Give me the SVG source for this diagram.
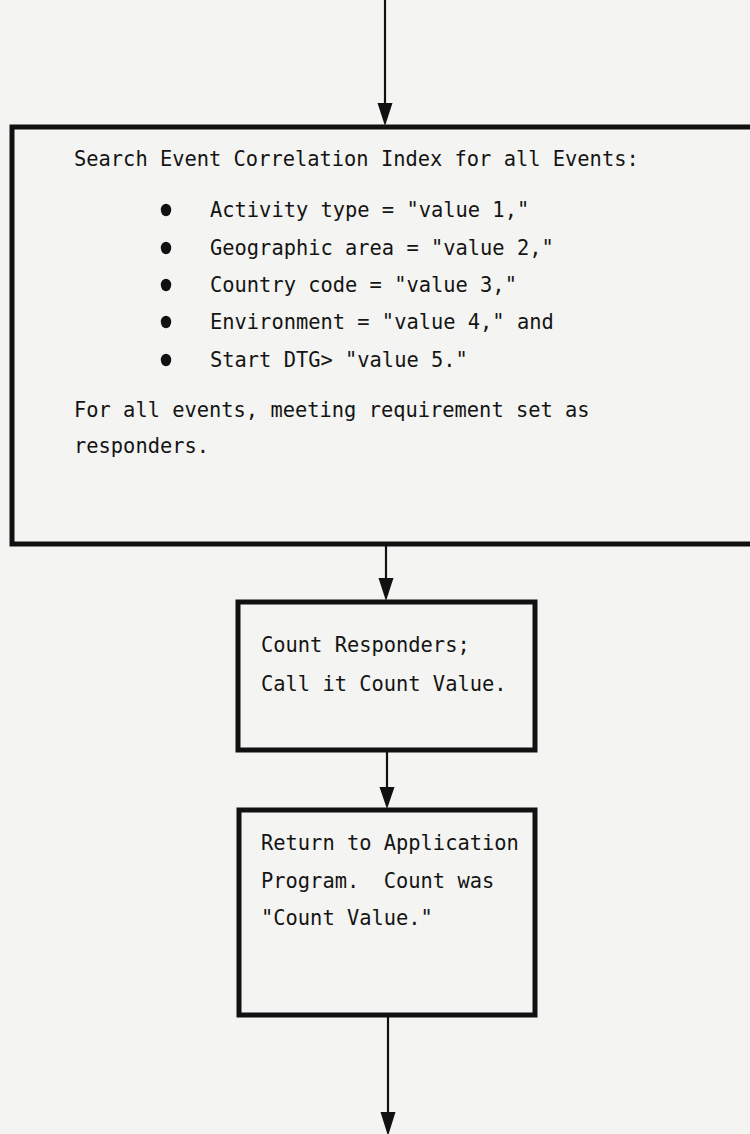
<svg xmlns="http://www.w3.org/2000/svg" width="750" height="1134" viewBox="0 0 750 1134">
<style>
.box{fill:none;stroke:#111;stroke-width:5}
.con{stroke:#111;stroke-width:2.2;fill:none}
.head{fill:#111}
.t{font-family:"DejaVu Sans Mono","Liberation Mono",monospace;font-size:20.4px;fill:#141414}
.bul{fill:#111}
</style>
<rect x="0" y="0" width="750" height="1134" fill="#f4f4f2"/>
<g id="connectors">
<line class="con" x1="385" y1="0" x2="385" y2="103"/>
<polygon class="head" points="377.5,103 392.5,103 385,126"/>
<line class="con" x1="386" y1="544" x2="386" y2="579"/>
<polygon class="head" points="378.5,578 393.5,578 386,601"/>
<line class="con" x1="387" y1="750" x2="387" y2="788"/>
<polygon class="head" points="379.5,787 394.5,787 387,809"/>
<line class="con" x1="388" y1="1015" x2="388" y2="1113"/>
<polygon class="head" points="380.5,1112 395.5,1112 388,1136"/>
</g>
<g id="search">
<rect class="box" x="12" y="127" width="760" height="417"/>
<text class="t" x="74" y="166">Search Event Correlation Index for all Events:</text>
<ellipse class="bul" cx="166" cy="210" rx="5.2" ry="6.2"/>
<text class="t" x="210" y="217">Activity type = "value 1,"</text>
<ellipse class="bul" cx="166" cy="248" rx="5.2" ry="6.2"/>
<text class="t" x="210" y="255">Geographic area = "value 2,"</text>
<ellipse class="bul" cx="166" cy="285" rx="5.2" ry="6.2"/>
<text class="t" x="210" y="292">Country code = "value 3,"</text>
<ellipse class="bul" cx="166" cy="322" rx="5.2" ry="6.2"/>
<text class="t" x="210" y="329">Environment = "value 4," and</text>
<ellipse class="bul" cx="166" cy="360" rx="5.2" ry="6.2"/>
<text class="t" x="210" y="367">Start DTG&gt; "value 5."</text>
<text class="t" x="74" y="417">For all events, meeting requirement set as</text>
<text class="t" x="74" y="453">responders.</text>
</g>
<g id="count">
<rect class="box" x="238" y="602" width="297" height="148"/>
<text class="t" x="261" y="652">Count Responders;</text>
<text class="t" x="261" y="691">Call it Count Value.</text>
</g>
<g id="return">
<rect class="box" x="239" y="810" width="296" height="205"/>
<text class="t" x="261" y="850">Return to Application</text>
<text class="t" x="261" y="888" xml:space="preserve">Program.  Count was</text>
<text class="t" x="261" y="925">"Count Value."</text>
</g>
</svg>
